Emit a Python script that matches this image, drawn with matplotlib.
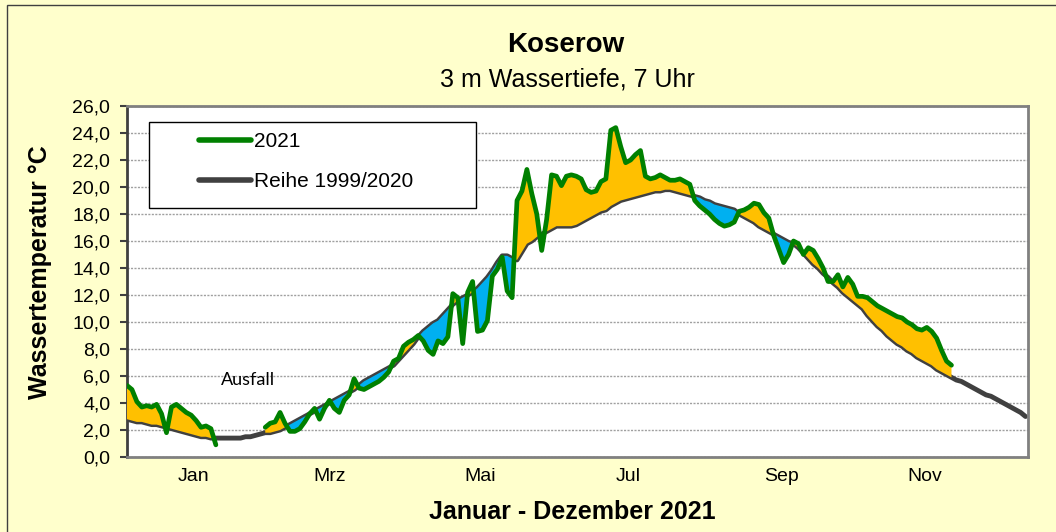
import numpy as np
import matplotlib
matplotlib.use("Agg")
import matplotlib.pyplot as plt
from matplotlib.lines import Line2D
from matplotlib.patches import Rectangle

plt.rcParams['font.family'] = ['Liberation Sans', 'DejaVu Sans']

# long-term mean 1999/2020, every 2nd day of the year (day 0 .. 364)
mean_days = np.arange(0, 365, 2)
mean_temp = [
    2.8, 2.7, 2.6, 2.6, 2.5, 2.4, 2.4, 2.3, 2.2, 2.1, 2.0, 1.9, 1.8, 1.7, 1.6, 1.5,
    1.5, 1.4, 1.4, 1.4, 1.4, 1.4, 1.4, 1.4, 1.5, 1.5, 1.6, 1.7, 1.8, 1.8, 1.9, 2.0,
    2.2, 2.4, 2.6, 2.8, 3.0, 3.2, 3.4, 3.6, 3.8, 4.0, 4.2, 4.4, 4.6, 4.8, 5.0, 5.3,
    5.6, 5.8, 6.0, 6.2, 6.4, 6.6, 6.8, 7.2, 7.6, 8.0, 8.4, 8.9, 9.3, 9.6, 9.9, 10.1,
    10.5, 10.9, 11.3, 11.6, 11.8, 12.0, 12.2, 12.5, 12.9, 13.3, 13.8, 14.4, 14.9, 14.9,
    14.7, 14.6, 15.2, 15.8, 16.0, 16.3, 16.5, 16.7, 16.9, 17.1, 17.1, 17.1, 17.1, 17.2,
    17.4, 17.6, 17.8, 18.0, 18.2, 18.3, 18.6, 18.8, 19.0, 19.1, 19.2, 19.3, 19.4, 19.5,
    19.6, 19.7, 19.7, 19.8, 19.8, 19.7, 19.6, 19.5, 19.4, 19.3, 19.2, 19.0, 18.9, 18.7,
    18.6, 18.5, 18.4, 18.3, 18.0, 17.8, 17.6, 17.4, 17.1, 16.9, 16.7, 16.5, 16.3, 16.1,
    15.9, 15.8, 15.5, 15.1, 14.7, 14.3, 14.0, 13.6, 13.3, 12.9, 12.6, 12.2, 11.9, 11.6,
    11.3, 11.0, 10.5, 10.1, 9.7, 9.4, 9.0, 8.7, 8.4, 8.2, 7.9, 7.7, 7.4, 7.2, 7.0, 6.8,
    6.5, 6.3, 6.1, 5.9, 5.7, 5.6, 5.4, 5.2, 5.0, 4.8, 4.6, 4.5, 4.3, 4.1, 3.9, 3.7,
    3.5, 3.3, 3.0,
]

# 2021 measurements, every 2nd day (day 0 .. 334), nan = Ausfall
days_2021 = np.arange(0, 335, 2)
nan = np.nan
temp_2021 = [
    5.3, 5.0, 4.1, 3.7, 3.8, 3.7, 3.9, 3.2, 1.8, 3.7, 3.9, 3.6, 3.3, 3.1, 2.7, 2.2,
    2.3, 2.1, 0.9,
    nan, nan, nan, nan, nan, nan, nan, nan, nan,
    2.2, 2.5, 2.6, 3.3, 2.5, 1.9, 1.9, 2.1, 2.6, 3.2, 3.6, 2.8, 3.6, 4.2, 3.6, 3.3,
    4.2, 4.6, 5.8, 5.1, 5.0, 5.2, 5.4, 5.6, 5.9, 6.3, 7.1, 7.3, 8.2, 8.5, 8.7, 9.0,
    8.6, 7.9, 7.6, 8.6, 8.4, 8.9, 12.1, 11.8, 8.4, 12.2, 13.0, 9.3, 9.4, 10.1, 13.4, 13.9,
    14.8, 12.3, 11.8, 19.0, 19.7, 21.3, 19.5, 18.0, 15.3, 17.6, 20.9, 20.8, 20.1, 20.8, 20.9, 20.8,
    20.6, 19.8, 19.6, 19.7, 20.4, 20.6, 24.2, 24.4, 23.0, 21.8, 22.0, 22.4, 22.7, 20.8, 20.6, 20.7,
    20.9, 20.7, 20.5, 20.5, 20.6, 20.4, 20.2, 19.0, 18.6, 18.3, 18.0, 17.6, 17.3, 17.1, 17.2, 17.4,
    18.2, 18.3, 18.5, 18.8, 18.7, 18.1, 17.7, 16.4, 15.4, 14.4, 15.0, 16.0, 15.8, 15.0, 15.5, 15.3,
    14.7, 14.0, 13.0, 13.0, 13.5, 12.6, 13.3, 12.8, 11.9, 11.9, 11.8, 11.5, 11.2, 11.0, 10.8, 10.6,
    10.4, 10.3, 10.0, 9.8, 9.5, 9.4, 9.6, 9.3, 8.8, 7.9, 7.1, 6.8,
]

month_labels = ['Jan', 'Mrz', 'Mai', 'Jul', 'Sep', 'Nov']
month_pos = [27, 82, 143, 203, 265, 323]
y_ticks = np.arange(0, 27, 2)

bg = '#FFFFCC'
orange = '#FFC000'
blue = '#00B0F0'
green = '#008000'
dark = '#404040'

fig = plt.figure(figsize=(10.56, 5.32), dpi=100, facecolor=bg)
ax = fig.add_axes([127 / 1056, 1 - 457 / 532, 901 / 1056, 351 / 532])
ax.set_facecolor('white')

# outer chart border (only left/top visible)
fig.patches.append(Rectangle((6.5 / 1056, -0.1), 1.2, 1.1 - 5 / 532, transform=fig.transFigure,
                             fill=False, edgecolor=dark, lw=1))

y21 = np.array(temp_2021)
m21 = np.array(mean_temp[:len(temp_2021)])

ax.plot(mean_days, mean_temp, color=dark, lw=3.5, zorder=2,
        solid_joinstyle='round', solid_capstyle='round')
ax.fill_between(days_2021, m21, y21, where=y21 >= m21, interpolate=True,
                facecolor=orange, lw=0, zorder=3)
ax.fill_between(days_2021, m21, y21, where=y21 < m21, interpolate=True,
                facecolor=blue, lw=0, zorder=3)
ax.plot(days_2021, y21, color=green, lw=3.4, zorder=4,
        solid_joinstyle='round', solid_capstyle='round')

ax.set_xlim(0, 365)
ax.set_ylim(0, 26)
ax.set_yticks(y_ticks)
ax.set_yticklabels([f"{v:.1f}".replace('.', ',') for v in y_ticks], fontsize=14)
ax.set_xticks(month_pos)
ax.set_xticklabels(month_labels, fontsize=14)
ax.tick_params(axis='x', length=0, pad=8)
ax.tick_params(axis='y', direction='out', length=5, width=1.5, color=dark, pad=7)

ax.grid(axis='y', color='#A0A0A0', lw=1, linestyle=(0, (1.5, 1)), zorder=1)
ax.set_axisbelow(True)

for side in ['top', 'right', 'bottom']:
    ax.spines[side].set_color('#808080')
    ax.spines[side].set_linewidth(2)
ax.spines['left'].set_color(dark)
ax.spines['left'].set_linewidth(2)

ax.text(49, 5.7, 'Ausfall', fontsize=13, family=['Lato', 'DejaVu Sans'],
        ha='center', va='center', zorder=5)

# legend
ax.add_patch(Rectangle((0.0244, 0.7094), 0.363, 0.245, transform=ax.transAxes,
                       facecolor='white', edgecolor='black', lw=1, zorder=6))
handles = [Line2D([], [], color=green, lw=4, solid_capstyle='round'),
           Line2D([], [], color=dark, lw=4, solid_capstyle='round')]
leg = ax.legend(handles, ['2021', 'Reihe 1999/2020'], loc='upper left',
                bbox_to_anchor=(0.0799, 0.926), frameon=False, fontsize=15,
                handlelength=2.5, handletextpad=0.15, labelspacing=1.0,
                borderpad=0, borderaxespad=0)
leg.set_zorder(7)

fig.text(566 / 1056, 1 - 45 / 532, 'Koserow', fontsize=20, fontweight='bold',
         ha='center', va='center')
fig.text(567 / 1056, 1 - 80 / 532, '3 m Wassertiefe, 7 Uhr', fontsize=18,
         ha='center', va='center')
fig.text(572 / 1056, 1 - 512 / 532, 'Januar - Dezember 2021', fontsize=18,
         fontweight='bold', ha='center', va='center')
fig.text(40 / 1056, 1 - 272 / 532, 'Wassertemperatur °C', fontsize=18,
         fontweight='bold', rotation=90, ha='center', va='center')

fig.savefig('out.png', dpi=100, facecolor=bg)
